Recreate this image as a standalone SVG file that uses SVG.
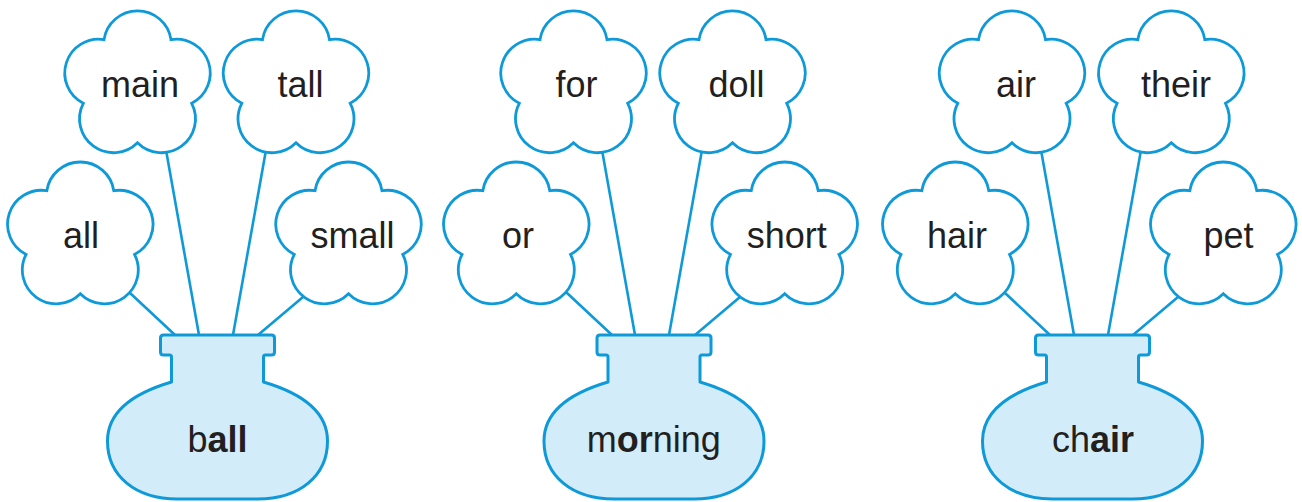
<svg xmlns="http://www.w3.org/2000/svg" xmlns:xlink="http://www.w3.org/1999/xlink" width="1302" height="502" viewBox="0 0 1302 502">
<style>
.stem{stroke:#0e9ad8;stroke-width:2.6;fill:none;stroke-linecap:round}
.flower{fill:#ffffff;stroke:#0e9ad8;stroke-width:2.8;stroke-linejoin:miter}
.vase{fill:#d3ecfa;stroke:#0e9ad8;stroke-width:3;stroke-linejoin:round}
.t{font-family:"Liberation Sans",Arial,sans-serif;font-size:36px;fill:#231f20;text-anchor:middle}
.b{font-weight:bold}
</style>
<defs>
<path id="fl" d="M -33.5 -46.1 A 33.9 33.9 0 0 1 33.5 -46.1 A 33.9 33.9 0 0 1 54.2 17.6 A 33.9 33.9 0 0 1 0 57 A 33.9 33.9 0 0 1 -54.2 17.6 A 33.9 33.9 0 0 1 -33.5 -46.1 Z"/>
<path id="vs" d="M -46 382 L -46 357 Q -46 355 -48 355 L -54 355 Q -57 355 -57 352 L -57 338 Q -57 335 -54 335 L 54 335 Q 57 335 57 338 L 57 352 Q 57 355 54 355 L 48 355 Q 46 355 46 357 L 46 382 C 80 392 110 410 110 441 C 110 476 82 499 40 499 L -40 499 C -82 499 -110 476 -110 441 C -110 410 -80 392 -46 382 Z"/>
</defs>
<g id="connectors">
<line class="stem" x1="130" y1="293" x2="175" y2="335"/>
<line class="stem" x1="166" y1="150" x2="199" y2="335"/>
<line class="stem" x1="266" y1="150" x2="233" y2="335"/>
<line class="stem" x1="303" y1="297" x2="258" y2="335"/>
<line class="stem" x1="567" y1="293" x2="612" y2="335"/>
<line class="stem" x1="602" y1="150" x2="635" y2="335"/>
<line class="stem" x1="702" y1="150" x2="669" y2="335"/>
<line class="stem" x1="740" y1="297" x2="695" y2="335"/>
<line class="stem" x1="1005" y1="293" x2="1050" y2="335"/>
<line class="stem" x1="1041" y1="150" x2="1074" y2="335"/>
<line class="stem" x1="1141" y1="150" x2="1108" y2="335"/>
<line class="stem" x1="1178" y1="297" x2="1133" y2="335"/>
</g>
<g id="flower-all"><use xlink:href="#fl" class="flower" x="80.3" y="236.8"/><text class="t" x="81" y="247.5">all</text></g>
<g id="flower-main"><use xlink:href="#fl" class="flower" x="137.5" y="85.7"/><text class="t" x="140" y="97">main</text></g>
<g id="flower-tall"><use xlink:href="#fl" class="flower" x="296" y="85.7"/><text class="t" x="300.5" y="97">tall</text></g>
<g id="flower-small"><use xlink:href="#fl" class="flower" x="348.5" y="236.8"/><text class="t" x="352.5" y="247.5">small</text></g>
<g id="vase-ball"><use xlink:href="#vs" class="vase" x="217.5" y="0"/><text class="t" x="217.5" y="451.7">b<tspan class="b">all</tspan></text></g>

<g id="flower-or"><use xlink:href="#fl" class="flower" x="516.3" y="236.8"/><text class="t" x="518" y="247.5">or</text></g>
<g id="flower-for"><use xlink:href="#fl" class="flower" x="573.5" y="85.7"/><text class="t" x="576.5" y="97">for</text></g>
<g id="flower-doll"><use xlink:href="#fl" class="flower" x="732.5" y="85.7"/><text class="t" x="736.5" y="97">doll</text></g>
<g id="flower-short"><use xlink:href="#fl" class="flower" x="784.7" y="236.8"/><text class="t" x="786.7" y="247.5">short</text></g>
<g id="vase-morning"><use xlink:href="#vs" class="vase" x="654" y="0"/><text class="t" x="653.7" y="451.7">m<tspan class="b">or</tspan>ning</text></g>

<g id="flower-hair"><use xlink:href="#fl" class="flower" x="955.3" y="236.8"/><text class="t" x="957" y="247.5">hair</text></g>
<g id="flower-air"><use xlink:href="#fl" class="flower" x="1012" y="85.7"/><text class="t" x="1016" y="97">air</text></g>
<g id="flower-their"><use xlink:href="#fl" class="flower" x="1171.3" y="85.7"/><text class="t" x="1176" y="97">their</text></g>
<g id="flower-pet"><use xlink:href="#fl" class="flower" x="1223.3" y="236.8"/><text class="t" x="1228.5" y="247.5">pet</text></g>
<g id="vase-chair"><use xlink:href="#vs" class="vase" x="1092.5" y="0"/><text class="t" x="1093" y="451.7">ch<tspan class="b">air</tspan></text></g>
</svg>
